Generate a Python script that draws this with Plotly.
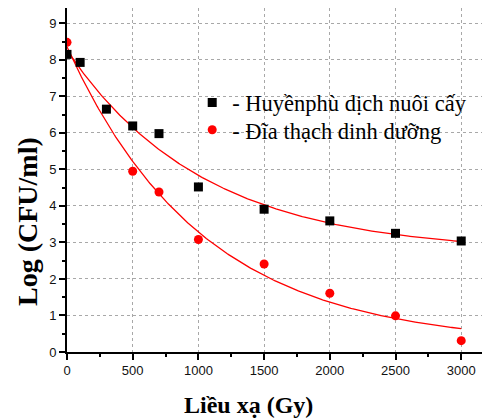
import numpy as np
import plotly.graph_objects as go

# Data
dose_susp = [0, 100, 300, 500, 700, 1000, 1500, 2000, 2500, 3000]
log_susp = [8.15, 7.93, 6.65, 6.19, 5.98, 4.52, 3.91, 3.59, 3.25, 3.04]

dose_plate = [0, 500, 700, 1000, 1500, 2000, 2500, 3000]
log_plate = [8.48, 4.95, 4.38, 3.08, 2.41, 1.61, 0.99, 0.31]

name_susp = "- Huyềnphù dịch nuôi cấy"
name_plate = "- Đĩa thạch dinh dưỡng"
x_title = "Liều xạ (Gy)"
y_title = "Log (CFU/ml)"


def expdec_fit(x, y):
    """Least-squares fit of y = y0 + A*exp(-x/t) (grid search on t)."""
    x = np.asarray(x, float)
    y = np.asarray(y, float)
    best = None
    for t in np.linspace(100, 5000, 4901):
        M = np.column_stack([np.ones_like(x), np.exp(-x / t)])
        coef, *_ = np.linalg.lstsq(M, y, rcond=None)
        r = np.sum((M @ coef - y) ** 2)
        if best is None or r < best[0]:
            best = (r, coef[0], coef[1], t)
    _, y0, A, t = best
    return lambda xx: y0 + A * np.exp(-np.asarray(xx) / t)


xs = np.linspace(0, 3000, 301)
fit_susp = expdec_fit(dose_susp, log_susp)(xs)
fit_plate = expdec_fit(dose_plate, log_plate)(xs)

fig = go.Figure()
fig.add_trace(go.Scatter(x=xs, y=fit_susp, mode="lines",
                         line=dict(color="#ff0000", width=1.3),
                         showlegend=False, hoverinfo="skip"))
fig.add_trace(go.Scatter(x=xs, y=fit_plate, mode="lines",
                         line=dict(color="#ff0000", width=1.3),
                         showlegend=False, hoverinfo="skip"))
fig.add_trace(go.Scatter(x=dose_susp, y=log_susp, mode="markers", name=name_susp,
                         legend="legend",
                         marker=dict(symbol="square", size=9, color="black")))
fig.add_trace(go.Scatter(x=dose_plate, y=log_plate, mode="markers", name=name_plate,
                         legend="legend2",
                         marker=dict(symbol="circle", size=9, color="#ff0000")))

axis_common = dict(
    showline=True, linecolor="black", linewidth=1.6,
    ticks="outside", ticklen=6, tickwidth=1.5, tickcolor="black",
    showgrid=True, gridcolor="#a8a8a8", griddash="dot", gridwidth=1,
    zeroline=False, mirror=False, automargin=False,
    tickfont=dict(family="Liberation Sans", size=13, color="#111111"),
)

fig.update_xaxes(
    range=[0, 3219], tick0=0, dtick=500,
    minor=dict(ticks="outside", ticklen=3.5, tickwidth=1.5, tickcolor="black",
               dtick=250, showgrid=False),
    **axis_common,
)
fig.update_yaxes(
    range=[0, 9.42], tick0=0, dtick=1,
    minor=dict(ticks="outside", ticklen=3.5, tickwidth=1.5, tickcolor="black",
               dtick=0.5, showgrid=False),
    **axis_common,
)

title_font = dict(family="Liberation Serif", color="black", weight="bold")

# Axis titles (placed off-centre, as in the reference)
fig.add_annotation(text=x_title, xref="paper", yref="paper",
                   x=(248 - 67) / 423, y=-0.154, xanchor="center", yanchor="middle",
                   showarrow=False, font=dict(size=24, **title_font))
fig.add_annotation(text=y_title, xref="paper", yref="paper",
                   x=0, xshift=-39, y=0.378, xanchor="center", yanchor="middle",
                   textangle=-90, showarrow=False, borderpad=0,
                   font=dict(size=28, **title_font))

legend_common = dict(
    xanchor="left", yanchor="middle",
    bgcolor="rgba(0,0,0,0)", borderwidth=0,
    font=dict(family="Liberation Serif", size=22.5, color="black"),
    itemsizing="trace",
)

fig.update_layout(
    width=482, height=411,
    margin=dict(l=59, r=0, t=0, b=67),
    paper_bgcolor="white", plot_bgcolor="white",
    legend=dict(x=0.296, y=0.724, **legend_common),
    legend2=dict(x=0.296, y=0.645, **legend_common),
)

fig.write_html("out.html")
